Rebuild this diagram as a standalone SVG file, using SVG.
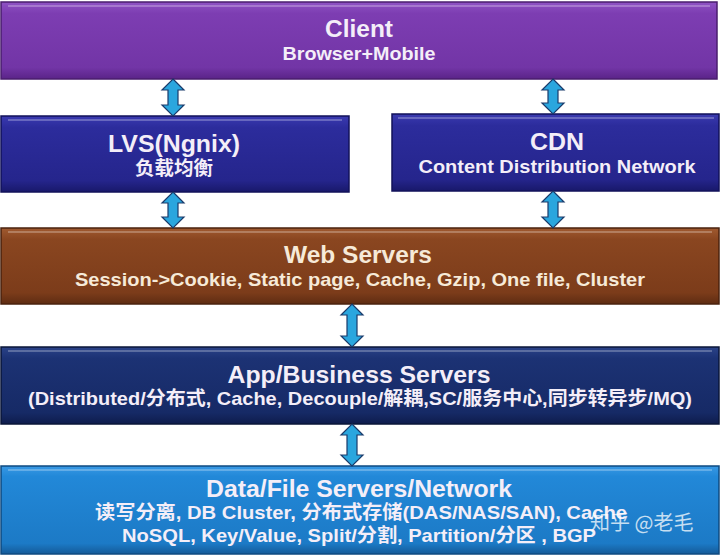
<svg xmlns="http://www.w3.org/2000/svg" width="720" height="556" viewBox="0 0 720 556">
<defs>
<linearGradient id="gPurple" x1="0" y1="0" x2="0" y2="1"><stop offset="0" stop-color="#8e52c4"/><stop offset="0.15" stop-color="#7d3db2"/><stop offset="0.85" stop-color="#7235a6"/><stop offset="1" stop-color="#5a2488"/></linearGradient>
<linearGradient id="gIndigo" x1="0" y1="0" x2="0" y2="1"><stop offset="0" stop-color="#3a3ab0"/><stop offset="0.15" stop-color="#2c2c9c"/><stop offset="0.85" stop-color="#25258c"/><stop offset="1" stop-color="#18186a"/></linearGradient>
<linearGradient id="gBrown" x1="0" y1="0" x2="0" y2="1"><stop offset="0" stop-color="#a05a30"/><stop offset="0.15" stop-color="#8a4620"/><stop offset="0.85" stop-color="#7c3c1a"/><stop offset="1" stop-color="#5e2c12"/></linearGradient>
<linearGradient id="gNavy" x1="0" y1="0" x2="0" y2="1"><stop offset="0" stop-color="#2a4288"/><stop offset="0.15" stop-color="#1c3274"/><stop offset="0.85" stop-color="#162a66"/><stop offset="1" stop-color="#0e1c4c"/></linearGradient>
<linearGradient id="gBlue" x1="0" y1="0" x2="0" y2="1"><stop offset="0" stop-color="#3898e4"/><stop offset="0.12" stop-color="#2288d8"/><stop offset="0.88" stop-color="#1c7ac6"/><stop offset="1" stop-color="#145a98"/></linearGradient>
</defs>
<style>
.box{stroke-width:1.5}
.hl{fill:none;stroke:#ffffff;stroke-opacity:0.25;stroke-width:2}
.t{font-family:"Liberation Sans","Noto Sans CJK SC",sans-serif;font-weight:bold;text-anchor:middle;fill:#f4eef8}
.title{font-size:24px}
.sub{font-size:19px}
.cream{fill:#f6ead8}
.arrow{fill:#2aa6de;stroke:#1a3a6a;stroke-width:1.2;stroke-linejoin:miter}
.wm{font-family:"Noto Sans CJK SC",sans-serif;font-size:20px;fill:#ffffff;fill-opacity:0.75}
</style>
<rect width="720" height="556" fill="#ffffff"/>

<g id="client">
<rect class="box" x="1" y="2" width="716" height="77" fill="url(#gPurple)" stroke="#4a1e6e"/>
<line class="hl" x1="8" y1="6" x2="710" y2="6"/>
<text class="t title" x="359" y="37" textLength="68" lengthAdjust="spacingAndGlyphs">Client</text>
<text class="t sub" x="359" y="60" textLength="153" lengthAdjust="spacingAndGlyphs">Browser+Mobile</text>
</g>

<g id="lvs">
<rect class="box" x="1" y="116" width="348" height="76" fill="url(#gIndigo)" stroke="#12125a"/>
<line class="hl" x1="8" y1="120" x2="342" y2="120"/>
<text class="t title" x="174" y="152" textLength="132" lengthAdjust="spacingAndGlyphs">LVS(Ngnix)</text>
<text class="t sub" x="174" y="175" textLength="78" lengthAdjust="spacingAndGlyphs">负载均衡</text>
</g>

<g id="cdn">
<rect class="box" x="392" y="114" width="327" height="77" fill="url(#gIndigo)" stroke="#12125a"/>
<line class="hl" x1="398" y1="118" x2="714" y2="118"/>
<text class="t title" x="557" y="150" textLength="54" lengthAdjust="spacingAndGlyphs">CDN</text>
<text class="t sub" x="557" y="173" textLength="277" lengthAdjust="spacingAndGlyphs">Content Distribution Network</text>
</g>

<g id="web">
<rect class="box" x="1" y="228" width="718" height="76" fill="url(#gBrown)" stroke="#4a220e"/>
<line class="hl" x1="8" y1="232" x2="712" y2="232"/>
<text class="t title cream" x="358" y="263" textLength="148" lengthAdjust="spacingAndGlyphs">Web Servers</text>
<text class="t sub cream" x="360" y="286" textLength="570" lengthAdjust="spacingAndGlyphs">Session-&gt;Cookie, Static page, Cache, Gzip, One file, Cluster</text>
</g>

<g id="app">
<rect class="box" x="1" y="347" width="718" height="77" fill="url(#gNavy)" stroke="#0a1638"/>
<line class="hl" x1="8" y1="351" x2="712" y2="351"/>
<text class="t title" x="359" y="383" textLength="263" lengthAdjust="spacingAndGlyphs">App/Business Servers</text>
<text class="t sub" x="360" y="405" textLength="664" lengthAdjust="spacingAndGlyphs">(Distributed/分布式, Cache, Decouple/解耦,SC/服务中心,同步转异步/MQ)</text>
</g>

<g id="data">
<rect class="box" x="1" y="466" width="718" height="88" fill="url(#gBlue)" stroke="#0e4a80"/>
<line class="hl" x1="8" y1="470" x2="712" y2="470"/>
<text class="t title" x="359" y="497" textLength="306" lengthAdjust="spacingAndGlyphs">Data/File Servers/Network</text>
<text class="t sub" x="361" y="519" textLength="532" lengthAdjust="spacingAndGlyphs">读写分离, DB Cluster, 分布式存储(DAS/NAS/SAN), Cache</text>
<text class="t sub" x="359" y="542" textLength="474" lengthAdjust="spacingAndGlyphs">NoSQL, Key/Value, Split/分割, Partition/分区 , BGP</text>
<text class="wm" x="590" y="530">知乎 @老毛</text>
</g>

<g id="connectors">
<path class="arrow" d="M173,79 L184,90 L178,90 L178,105 L184,105 L173,116 L162,105 L168,105 L168,90 L162,90 Z"/>
<path class="arrow" d="M553,79 L564,90 L558,90 L558,103 L564,103 L553,114 L542,103 L548,103 L548,90 L542,90 Z"/>
<path class="arrow" d="M173,192 L184,203 L178,203 L178,217 L184,217 L173,228 L162,217 L168,217 L168,203 L162,203 Z"/>
<path class="arrow" d="M553,191 L564,202 L558,202 L558,217 L564,217 L553,228 L542,217 L548,217 L548,202 L542,202 Z"/>
<path class="arrow" d="M352,304 L363,315 L357,315 L357,336 L363,336 L352,347 L341,336 L347,336 L347,315 L341,315 Z"/>
<path class="arrow" d="M352,424 L363,435 L357,435 L357,455 L363,455 L352,466 L341,455 L347,455 L347,435 L341,435 Z"/>
</g>
</svg>
